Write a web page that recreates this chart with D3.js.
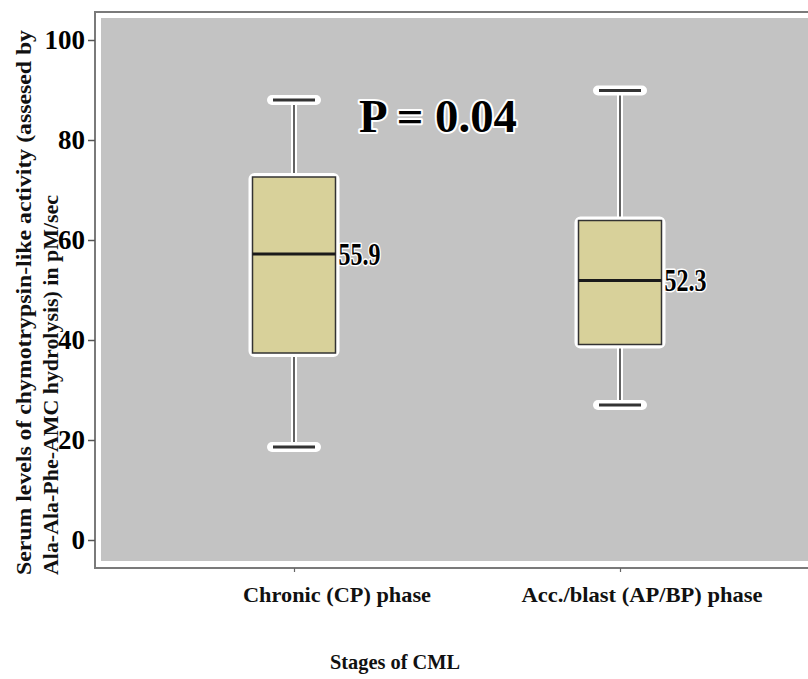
<!DOCTYPE html>
<html>
<head>
<meta charset="utf-8">
<script src="https://cdn.jsdelivr.net/npm/d3@7/dist/d3.min.js"></script>
<style>
html,body{margin:0;padding:0;background:#fff;}
svg{display:block;}
svg text{font-family:"Liberation Serif","DejaVu Serif",serif !important;font-weight:bold;}
</style>
</head>
<body>
<svg id="chart" width="808" height="679"></svg>
<script>
// ---- data ----
const categories = ["Chronic (CP) phase", "Acc./blast (AP/BP) phase"];
const whiskerLow = [18.6, 27.0];
const q1 = [37.4, 39.1];
const median = [57.2, 51.9];
const q3 = [72.6, 63.9];
const whiskerHigh = [88.0, 89.9];
const medianLabels = ["55.9", "52.3"];
const yTicks = [0, 20, 40, 60, 80, 100];
const pValueText = "P = 0.04";
const xTitle = "Stages of CML";
const yTitleLines = ["Serum levels of chymotrypsin-like activity (assesed by", "Ala-Ala-Phe-AMC hydrolysis) in pM/sec"];

// ---- drawing ----
const SERIF = "Liberation Serif, DejaVu Serif, serif";
const svg = d3.select("#chart");
const frame = {left: 95, top: 12, bottom: 568, right: 810};

const y = d3.scaleLinear().domain([0, 100]).range([540, 40]);
const x = d3.scalePoint().domain(categories).range([294, 620]);

// frame
svg.append("rect").attr("x", frame.left + 6).attr("y", frame.top + 6)
  .attr("width", frame.right - frame.left).attr("height", frame.bottom - frame.top - 13)
  .attr("fill", "#c3c3c3");
svg.append("path")
  .attr("d", `M${frame.right},${frame.top}H${frame.left}V${frame.bottom}H${frame.right}`)
  .attr("fill", "none").attr("stroke", "#7a7a7a").attr("stroke-width", 2);

// y axis
const yAxis = d3.axisLeft(y).tickValues(yTicks).tickSize(7).tickPadding(3);
const gy = svg.append("g").attr("transform", `translate(${frame.left},0)`).call(yAxis)
  .attr("font-family", SERIF);
gy.select(".domain").remove();
gy.selectAll(".tick line").attr("stroke", "#555").attr("stroke-width", 1.5);
gy.selectAll(".tick text")
  .attr("font-family", SERIF).attr("font-weight", "bold")
  .attr("font-size", 27).attr("fill", "#000")
  .attr("stroke", "#fff").attr("stroke-width", 3).attr("paint-order", "stroke")
  .attr("stroke-linejoin", "round");

// x axis
const xAxis = d3.axisBottom(x).tickSize(4).tickFormat("");
const gx = svg.append("g").attr("transform", `translate(0,${frame.bottom})`).call(xAxis);
gx.select(".domain").remove();
gx.selectAll(".tick line").attr("stroke", "#666").attr("stroke-width", 1.2);

const labelOffsets = [43, 22];
const labelLengths = [188, 241];
svg.selectAll("text.cat").data(categories).join("text").attr("class", "cat")
  .attr("x", (d, i) => x(d) + labelOffsets[i]).attr("y", 602)
  .attr("text-anchor", "middle").attr("font-family", SERIF).attr("font-weight", "bold")
  .attr("font-size", 22).attr("fill", "#111")
  .attr("textLength", (d, i) => labelLengths[i]).attr("lengthAdjust", "spacingAndGlyphs")
  .text(d => d);

svg.append("text").attr("x", 395).attr("y", 669).attr("text-anchor", "middle")
  .attr("font-family", SERIF).attr("font-weight", "bold")
  .attr("font-size", 22).attr("fill", "#111")
  .attr("textLength", 130).attr("lengthAdjust", "spacingAndGlyphs").text(xTitle);

// y title
const yTitleX = [31, 58];
const yTitleLen = [545, 380];
yTitleLines.forEach((t, i) => {
  svg.append("text")
    .attr("transform", `translate(${yTitleX[i]},575) rotate(-90)`)
    .attr("text-anchor", "start").attr("font-family", SERIF).attr("font-weight", "bold")
    .attr("font-size", 20).attr("fill", "#111")
    .attr("textLength", yTitleLen[i]).attr("lengthAdjust", "spacingAndGlyphs")
    .text(t);
});

// boxes
const boxW = 83, capW = 44;
const data = categories.map((c, i) => ({c, lo: whiskerLow[i], q1: q1[i], med: median[i], q3: q3[i], hi: whiskerHigh[i], lab: medianLabels[i]}));
const g = svg.selectAll("g.box").data(data).join("g").attr("class", "box");

[["lo", "q1"], ["q3", "hi"]].forEach(([a, b]) => {
  g.append("line").attr("x1", d => x(d.c)).attr("x2", d => x(d.c))
    .attr("y1", d => y(d[a])).attr("y2", d => y(d[b]))
    .attr("stroke", "#fff").attr("stroke-width", 6);
  g.append("line").attr("x1", d => x(d.c)).attr("x2", d => x(d.c))
    .attr("y1", d => y(d[a])).attr("y2", d => y(d[b]))
    .attr("stroke", "#3a3a3a").attr("stroke-width", 1.6);
});
["lo", "hi"].forEach(k => {
  g.append("line").attr("x1", d => x(d.c) - capW / 2).attr("x2", d => x(d.c) + capW / 2)
    .attr("y1", d => y(d[k])).attr("y2", d => y(d[k]))
    .attr("stroke", "#fff").attr("stroke-width", 10).attr("stroke-linecap", "round");
  g.append("line").attr("x1", d => x(d.c) - capW / 2 + 1).attr("x2", d => x(d.c) + capW / 2 - 1)
    .attr("y1", d => y(d[k])).attr("y2", d => y(d[k]))
    .attr("stroke", "#333").attr("stroke-width", 3.2);
});
g.append("rect").attr("x", d => x(d.c) - boxW / 2).attr("y", d => y(d.q3))
  .attr("width", boxW).attr("height", d => y(d.q1) - y(d.q3))
  .attr("fill", "#fff").attr("stroke", "#fff").attr("stroke-width", 8).attr("rx", 2);
g.append("rect").attr("x", d => x(d.c) - boxW / 2).attr("y", d => y(d.q3))
  .attr("width", boxW).attr("height", d => y(d.q1) - y(d.q3))
  .attr("fill", "#d8d19a").attr("stroke", "#333").attr("stroke-width", 1.5);
g.append("line").attr("x1", d => x(d.c) - boxW / 2).attr("x2", d => x(d.c) + boxW / 2)
  .attr("y1", d => y(d.med)).attr("y2", d => y(d.med))
  .attr("stroke", "#1a1a1a").attr("stroke-width", 3);
g.append("text").attr("x", d => x(d.c) + boxW / 2 + 3).attr("y", d => y(d.med))
  .attr("dy", "0.35em").attr("font-family", SERIF).attr("font-weight", "bold")
  .attr("font-size", 31).attr("fill", "#000")
  .attr("textLength", 42).attr("lengthAdjust", "spacingAndGlyphs")
  .attr("stroke", "#fff").attr("stroke-width", 3).attr("paint-order", "stroke").attr("stroke-linejoin", "round")
  .text(d => d.lab);

// p value
svg.append("text").attr("x", 438).attr("y", 132).attr("text-anchor", "middle")
  .attr("font-family", SERIF).attr("font-weight", "bold")
  .attr("font-size", 46).attr("fill", "#000")
  .attr("textLength", 158).attr("lengthAdjust", "spacingAndGlyphs")
  .attr("stroke", "#fff").attr("stroke-width", 4).attr("paint-order", "stroke").attr("stroke-linejoin", "round")
  .text(pValueText);
</script>
</body>
</html>
